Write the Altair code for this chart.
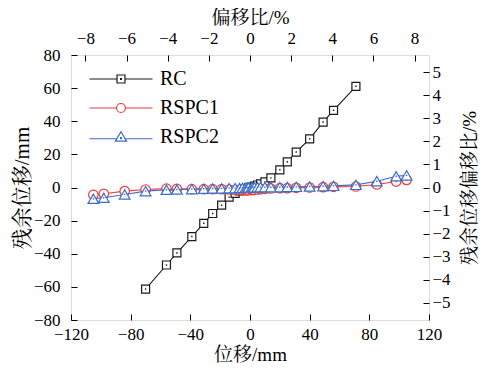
import altair as alt
import pandas as pd

# ---------------- data ----------------
series = ["RC", "RSPC1", "RSPC2"]
colors = ["#1a1a1a", "#f03a3a", "#3c6cc8"]

rc_x = [-70, -56, -49, -39, -31, -25, -19, -14, -10, -7, -5, -3, -1,
        1, 3, 5, 7, 10, 14, 20, 25, 31, 40, 49, 56, 71]
rc_y = [-61.3, -46.8, -39.5, -29.6, -21.6, -15.7, -10.7, -5.8, -3.6, -2.0, -1.2, -0.6, -0.2,
        0.3, 0.8, 1.5, 2.2, 3.4, 5.8, 10.7, 15.5, 21.4, 29.4, 39.5, 46.6, 61.1]

sp_x = [-105, -98, -84, -70, -56, -49, -39, -31, -25, -19, -14, -10, -7, -5, -3, -2, -1,
        1, 2, 3, 5, 7, 10, 14, 20, 25, 31, 40, 49, 56, 71, 85, 98, 105]
rspc1_y = [-4.4, -3.8, -2.2, -1.2, -0.7, -0.8, -1.0, -1.0, -1.0, -1.0, -1.2, -1.4, -1.5, -1.6, -1.6, -1.6, -1.6,
           -1.5, -1.5, -1.4, -1.2, -1.0, -0.8, -0.6, -0.4, -0.4, -0.2, 0.0, 0.2, 0.4, 0.6, 1.8, 3.6, 4.6]
rspc2_y = [-6.8, -6.2, -4.2, -2.2, -1.4, -1.2, -1.0, -0.8, -0.6, -0.6, -0.4, -0.4, -0.3, -0.2, -0.2, -0.1, 0.0,
           0.0, 0.1, 0.1, 0.2, 0.2, 0.2, 0.2, 0.2, 0.3, 0.4, 0.6, 0.8, 1.0, 1.6, 3.8, 6.8, 7.3]

bottom_ticks = [-120, -80, -40, 0, 40, 80, 120]
left_ticks = [-80, -60, -40, -20, 0, 20, 40, 60, 80]
top_ticks = [-8, -6, -4, -2, 0, 2, 4, 6, 8]
right_ticks = [-5, -4, -3, -2, -1, 0, 1, 2, 3, 4, 5]

x_dom = [-120, 120]
y_dom = [-80, 80]
top_dom = [-8.7, 8.7]
right_dom = [-5.74, 5.74]

# ---------------- style ----------------
FONT = "Liberation Serif, Noto Serif CJK SC, Noto Sans CJK SC"
W, H = 358, 265
TICK = 6
LBL = 17

marker_shapes = ["square", "circle", "triangle-up"]
marker_sizes = [64, 90, 115]
legend_paths = [
    "M-4.5,0H-0.57M0.57,0H4.5M-0.57,-0.57H0.57V0.57H-0.57ZM-0.06,-0.06H0.06V0.06H-0.06Z",
    "M-4.5,0H-0.64M0.64,0H4.5M0.64,0A0.64,0.64,0,1,1,-0.64,0A0.64,0.64,0,1,1,0.64,0Z",
    "M-4.5,0.25H-0.6M0.6,0.25H4.5M0,-0.75L0.8,0.6H-0.8ZM-0.06,0.1H0.06V0.22H-0.06Z",
]

rows = []
for xv, yv in zip(rc_x, rc_y):
    rows.append({"x": xv, "y": yv, "s": "RC"})
for xv, yv in zip(sp_x, rspc1_y):
    rows.append({"x": xv, "y": yv, "s": "RSPC1"})
for xv, yv in zip(sp_x, rspc2_y):
    rows.append({"x": xv, "y": yv, "s": "RSPC2"})
df = pd.DataFrame(rows)


def common_axis(**kw):
    return alt.Axis(domain=False, offset=-TICK, tickSize=TICK, tickColor="black", tickWidth=1,
                    labelFont=FONT, labelFontSize=LBL, labelColor="black", labelFlush=False,
                    titleFont=FONT, titleFontWeight="normal", titleColor="black",
                    grid=False, **kw)


x_enc = alt.X("x:Q", scale=alt.Scale(domain=x_dom, nice=False, zero=False),
              axis=common_axis(orient="bottom", values=bottom_ticks, title="位移/mm",
                               titleFontSize=19, labelPadding=6, titlePadding=3))
y_enc = alt.Y("y:Q", scale=alt.Scale(domain=y_dom, nice=False, zero=False),
              axis=common_axis(orient="left", values=left_ticks, title="残余位移/mm",
                               titleFontSize=21, labelPadding=11, titlePadding=1))

layers = []
for s, c, shp, sz in zip(series, colors, marker_shapes, marker_sizes):
    base = alt.Chart(df).transform_filter(alt.datum.s == s)
    layers.append(base.mark_line(color=c, strokeWidth=1.1).encode(x=x_enc, y=y_enc, order="x:Q"))
    layers.append(base.mark_point(shape=shp, size=sz, filled=True, fill="white", fillOpacity=1,
                                  stroke=c, strokeWidth=1.2, opacity=1).encode(x=x_enc, y=y_enc))
    layers.append(base.mark_point(shape="square", size=2, filled=True, color=c, opacity=1)
                  .encode(x=x_enc, y=y_enc))
main = alt.layer(*layers)

top = alt.Chart(pd.DataFrame({"p": top_ticks})).mark_point(opacity=0).encode(
    x=alt.X("p:Q", scale=alt.Scale(domain=top_dom, nice=False, zero=False),
            axis=common_axis(orient="top", values=top_ticks, title="偏移比/%",
                             titleFontSize=19, labelPadding=8, titlePadding=2)))

right = alt.Chart(pd.DataFrame({"r": right_ticks})).mark_point(opacity=0).encode(
    y=alt.Y("r:Q", scale=alt.Scale(domain=right_dom, nice=False, zero=False),
            axis=common_axis(orient="right", values=right_ticks, title="残余位移偏移比/%",
                             titleFontSize=19, titleAngle=270, titleBaseline="top",
                             labelPadding=3, titlePadding=10)))

leg_def = dict(orient="none", legendX=40, legendY=14, title=None, symbolSize=196,
               symbolStrokeWidth=1.2, symbolOpacity=1, labelFont=FONT, labelFontSize=20,
               labelColor="black", labelOffset=29, rowPadding=9, padding=0)
legend_layer = alt.Chart(df).mark_point(filled=False, strokeWidth=1.2).encode(
    color=alt.Color("s:N", scale=alt.Scale(domain=series, range=colors), legend=alt.Legend(**leg_def)),
    shape=alt.Shape("s:N", scale=alt.Scale(domain=series, range=legend_paths), legend=alt.Legend(**leg_def)),
).transform_filter("false")

chart = alt.layer(main, top, right, legend_layer).resolve_scale(
    x="independent", y="independent", color="independent", shape="independent"
).properties(
    width=W, height=H,
    padding={"left": 63, "top": 47, "right": 53, "bottom": 46},
    autosize=alt.AutoSizeParams(type="none"),
).configure_view(stroke="black", strokeWidth=1.3).configure(background="white")

chart.save("out.html", embed_options={"renderer": "svg", "actions": False})
